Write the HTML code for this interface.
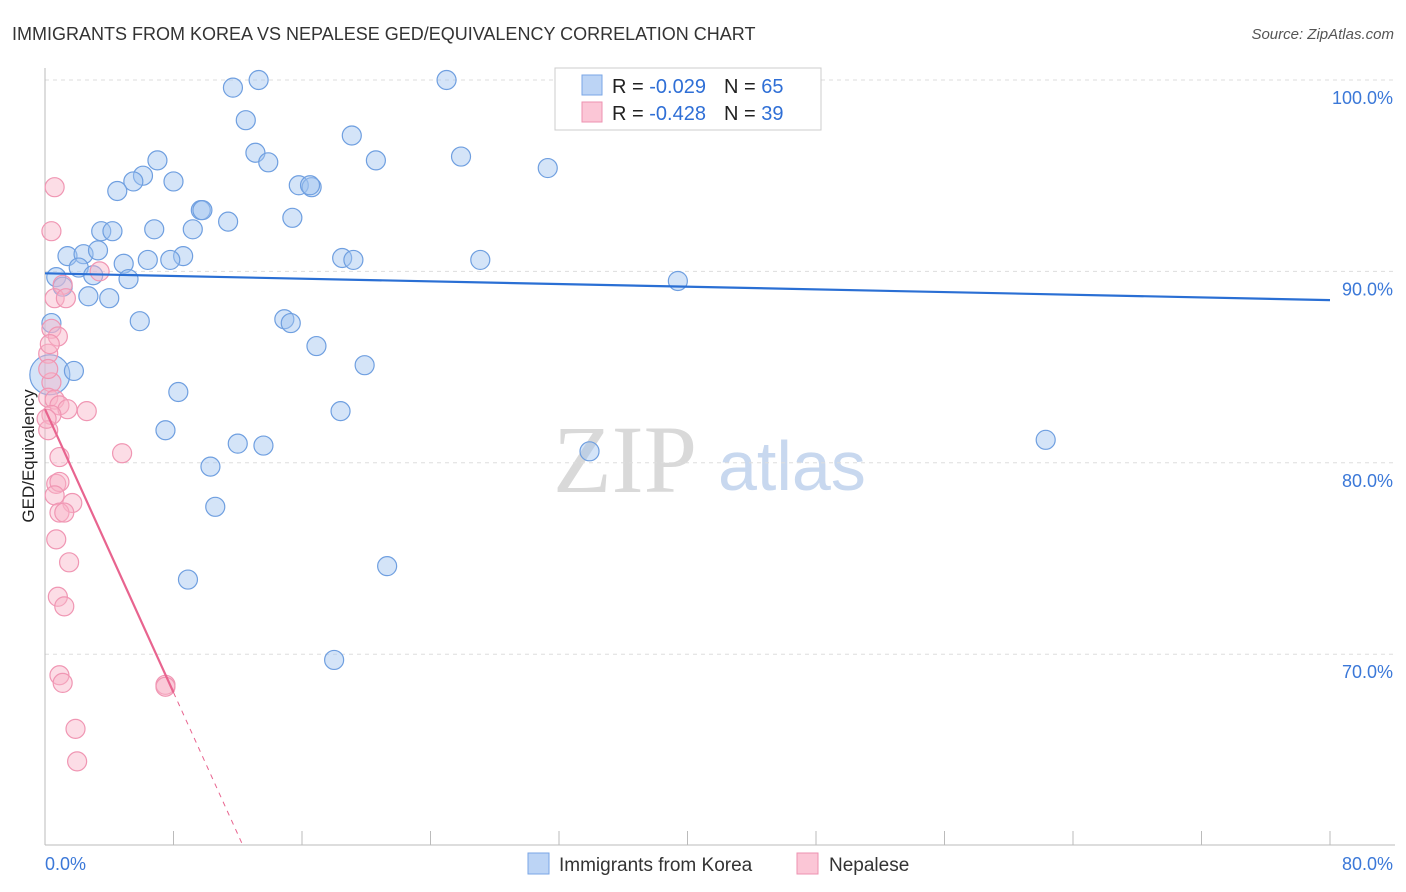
<!DOCTYPE html>
<html><head><meta charset="utf-8"><style>
body{margin:0;background:#fff;font-family:"Liberation Sans",sans-serif}
svg{display:block}
</style></head><body>
<svg id="c" width="1406" height="892">
<text x="12" y="40" font-size="18" fill="#333">IMMIGRANTS FROM KOREA VS NEPALESE GED/EQUIVALENCY CORRELATION CHART</text>
<text x="1394" y="39" font-size="15" fill="#555" text-anchor="end" font-style="italic">Source: ZipAtlas.com</text>
<g>
<text x="553" y="492" font-size="96" fill="#d9d9d9" font-family="Liberation Serif,serif">ZIP</text>
<text x="718" y="490" font-size="70" fill="#c8d8ef">atlas</text>
</g>
<g id="grid"></g>
<g id="axes"></g>
<g id="marks"></g>
<g>
<rect x="555" y="68" width="266" height="62" fill="#fff" stroke="#ccc"/>
<rect x="582" y="75" width="20" height="20" fill="#bcd4f5" stroke="#7aa6e6"/>
<rect x="582" y="102" width="20" height="20" fill="#fbc6d6" stroke="#ee92b0"/>
<text x="612" y="93" font-size="20" fill="#222">R = <tspan fill="#2f6fd6">-0.029</tspan><tspan dx="18">N = </tspan><tspan fill="#2f6fd6">65</tspan></text>
<text x="612" y="120" font-size="20" fill="#222">R = <tspan fill="#2f6fd6">-0.428</tspan><tspan dx="18">N = </tspan><tspan fill="#2f6fd6">39</tspan></text>
</g>
<g>
<rect x="528" y="853" width="21" height="21" fill="#bcd4f5" stroke="#7aa6e6"/>
<text x="559" y="871" font-size="19" fill="#333">Immigrants from Korea</text>
<rect x="797" y="853" width="21" height="21" fill="#fbc6d6" stroke="#ee92b0"/>
<text x="829" y="871" font-size="19" fill="#333">Nepalese</text>
</g>
<text transform="translate(34,456) rotate(-90)" font-size="17" fill="#222" text-anchor="middle">GED/Equivalency</text>
</svg>
<script>
const koreaX=[11.7,13.3,25.0,12.5,19.1,13.1,13.9,7.0,20.6,25.9,31.3,6.1,8.0,5.5,4.5,15.8,16.6,16.5,9.7,9.8,11.4,15.4,3.5,4.2,6.8,9.2,1.4,2.4,3.3,8.6,4.9,6.4,7.8,18.5,19.2,27.1,2.1,3.0,5.2,0.7,1.1,2.7,4.0,39.4,5.9,14.9,15.3,0.4,16.9,19.9,0.3,1.8,8.3,18.4,7.5,12.0,13.6,33.9,62.3,10.3,10.6,21.3,8.9,18.0,39.5];
const koreaY=[99.6,100.0,100.0,97.9,97.1,96.2,95.7,95.8,95.8,96.0,95.4,95.0,94.7,94.7,94.2,94.5,94.4,94.5,93.2,93.2,92.6,92.8,92.1,92.1,92.2,92.2,90.8,90.9,91.1,90.8,90.4,90.6,90.6,90.7,90.6,90.6,90.2,89.8,89.6,89.7,89.2,88.7,88.6,89.5,87.4,87.5,87.3,87.3,86.1,85.1,84.6,84.8,83.7,82.7,81.7,81.0,80.9,80.6,81.2,79.8,77.7,74.6,73.9,69.7,99.7];
const nepalX=[0.6,0.4,1.1,0.6,1.3,3.4,0.4,0.8,0.2,0.4,0.2,0.6,0.9,1.4,2.6,0.4,0.2,4.8,0.9,0.7,0.9,0.6,1.7,0.9,1.2,0.7,1.5,0.8,1.2,0.9,1.1,7.5,7.5,1.9,2.0,0.2,0.3,0.1];
const nepalY=[94.4,92.1,89.3,88.6,88.6,90.0,87.0,86.6,85.7,84.2,83.4,83.3,83.0,82.8,82.7,82.5,81.7,80.5,80.3,78.9,79.0,78.3,77.9,77.4,77.4,76.0,74.8,73.0,72.5,68.9,68.5,68.4,68.3,66.1,64.4,84.9,86.2,82.3];
const koreaTrend=[89.9,88.5];
const nepalTrend=[82.8,68.0];
const yTicks=[100,90,80,70];
const yTickLabels=["100.0%","90.0%","80.0%","70.0%"];
const xTicks=[0,8,16,24,32,40,48,56,64,72,80];

const X0=45,X1=1330,Y0=845.6,Y1=80;
const sx=v=>X0+(v/80)*(X1-X0);
const sy=v=>Y0-(v-60)/40*(Y0-Y1);
const NS="http://www.w3.org/2000/svg";
function mk(tag,attrs,parent){const e=document.createElementNS(NS,tag);for(const k in attrs)e.setAttribute(k,attrs[k]);parent.appendChild(e);return e;}
const grid=document.getElementById('grid'),axes=document.getElementById('axes'),marks=document.getElementById('marks');
yTicks.forEach((t,i)=>{
  const l=mk('line',{x1:X0,x2:1395,y1:sy(t),y2:sy(t),stroke:'#ddd','stroke-dasharray':'4,4'},grid);
  
  
  const tx=mk('text',{x:1393,y:sy(t)+24,'font-size':18,fill:'#3b78d8','text-anchor':'end'},axes);
  tx.textContent=yTickLabels[i];
  
  
});
const ax=mk('line',{x1:X0,x2:X0,y1:68,y2:845,stroke:'#bbb'},axes);


const bx=mk('line',{x1:X0,x2:1395,y1:845,y2:845,stroke:'#bbb'},axes);


xTicks.forEach(t=>{
  const l=mk('line',{x1:sx(t),x2:sx(t),y1:831,y2:845,stroke:'#bbb'},axes);
  
  
});
const xl0=mk('text',{x:45,y:870,'font-size':18,fill:'#3b78d8'},axes);xl0.textContent='0.0%';


const xl1=mk('text',{x:1393,y:870,'font-size':18,fill:'#3b78d8','text-anchor':'end'},axes);xl1.textContent='80.0%';



koreaX.forEach((v,i)=>{
  const r=(i===50)?20:9.5;
  const c=mk('circle',{cx:sx(v),cy:sy(koreaY[i]),r:r,fill:'rgba(160,195,240,0.45)',stroke:'#6f9fe0','stroke-width':1.2},marks);
  
  
});
nepalX.forEach((v,i)=>{
  const c=mk('circle',{cx:sx(v),cy:sy(nepalY[i]),r:9.5,fill:'rgba(248,180,200,0.45)',stroke:'#f096b3','stroke-width':1.2},marks);
  
  
});
const kl=mk('line',{x1:sx(0),y1:sy(koreaTrend[0]),x2:sx(80),y2:sy(koreaTrend[1]),stroke:'#2a6fd4','stroke-width':2.2},marks);


const slope=(nepalTrend[1]-nepalTrend[0])/8;
const nl=mk('line',{x1:sx(0),y1:sy(nepalTrend[0]),x2:sx(8),y2:sy(nepalTrend[1]),stroke:'#e8648f','stroke-width':2.2},marks);


const xe=(60-nepalTrend[0])/slope;
const nd=mk('line',{x1:sx(8),y1:sy(nepalTrend[1]),x2:sx(xe),y2:sy(60),stroke:'#e8648f','stroke-width':1,'stroke-dasharray':'5,5'},marks);


</script>
</body></html>
